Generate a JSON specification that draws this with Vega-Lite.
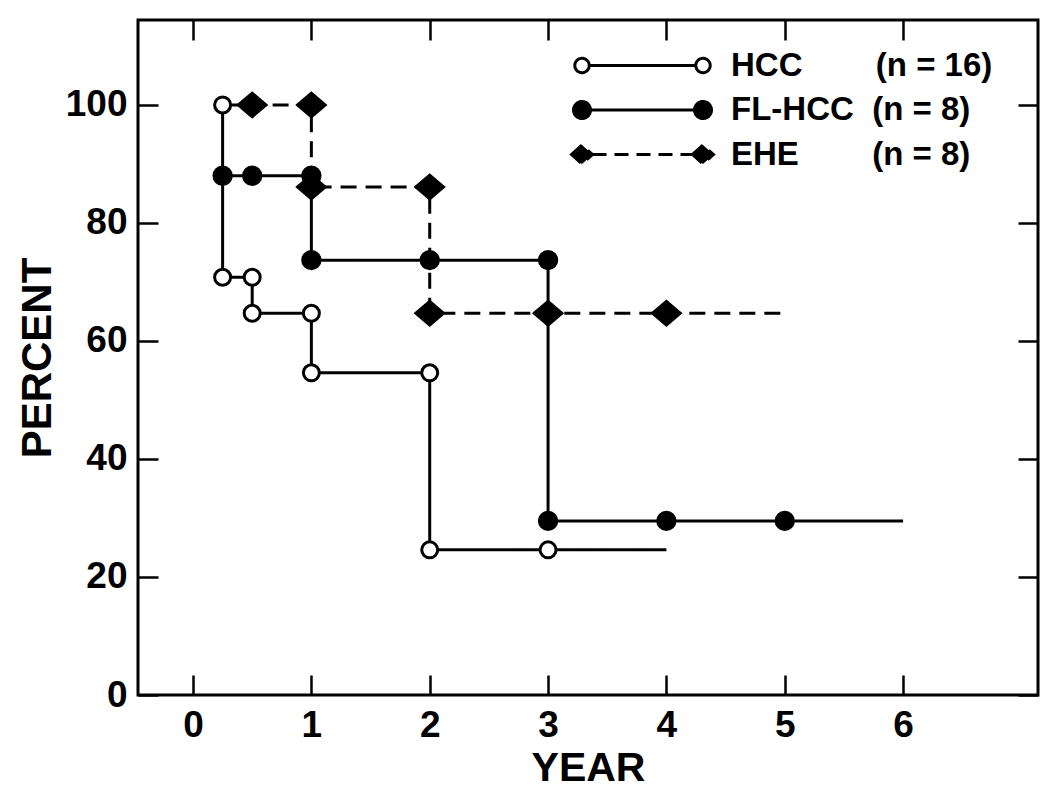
{
  "$schema": "https://vega.github.io/schema/vega-lite/v6.json",
  "width": 900,
  "height": 675,
  "autosize": {"type": "none"},
  "padding": {"left": 138, "top": 20, "right": 12, "bottom": 102},
  "background": "white",
  "config": {
    "font": "Liberation Sans",
    "view": {"stroke": "black", "strokeWidth": 3},
    "axis": {"grid": false, "domain": false, "tickColor": "black", "tickWidth": 2.5, "labelColor": "black", "titleColor": "black", "labelFontWeight": "bold", "titleFontWeight": "bold"}
  },
  "datasets": {
    "curves": [
      {"series": "HCC", "i": 1, "year": 0.25, "pct": 100},
      {"series": "HCC", "i": 2, "year": 0.25, "pct": 70.8},
      {"series": "HCC", "i": 3, "year": 0.5, "pct": 70.8},
      {"series": "HCC", "i": 4, "year": 0.5, "pct": 64.7},
      {"series": "HCC", "i": 5, "year": 1, "pct": 64.7},
      {"series": "HCC", "i": 6, "year": 1, "pct": 54.6},
      {"series": "HCC", "i": 7, "year": 2, "pct": 54.6},
      {"series": "HCC", "i": 8, "year": 2, "pct": 24.6},
      {"series": "HCC", "i": 9, "year": 4, "pct": 24.6},
      {"series": "FL-HCC", "i": 1, "year": 0.25, "pct": 88},
      {"series": "FL-HCC", "i": 2, "year": 1, "pct": 88},
      {"series": "FL-HCC", "i": 3, "year": 1, "pct": 73.7},
      {"series": "FL-HCC", "i": 4, "year": 3, "pct": 73.7},
      {"series": "FL-HCC", "i": 5, "year": 3, "pct": 29.5},
      {"series": "FL-HCC", "i": 6, "year": 6, "pct": 29.5},
      {"series": "EHE", "i": 1, "year": 0.25, "pct": 100},
      {"series": "EHE", "i": 2, "year": 1, "pct": 100},
      {"series": "EHE", "i": 3, "year": 1, "pct": 86.1},
      {"series": "EHE", "i": 4, "year": 2, "pct": 86.1},
      {"series": "EHE", "i": 5, "year": 2, "pct": 64.7},
      {"series": "EHE", "i": 6, "year": 5, "pct": 64.7}
    ],
    "markers": [
      {"series": "EHE", "year": 0.5, "pct": 100},
      {"series": "EHE", "year": 1, "pct": 100},
      {"series": "EHE", "year": 1, "pct": 86.1},
      {"series": "EHE", "year": 2, "pct": 86.1},
      {"series": "EHE", "year": 2, "pct": 64.7},
      {"series": "EHE", "year": 3, "pct": 64.7},
      {"series": "EHE", "year": 4, "pct": 64.7},
      {"series": "FL-HCC", "year": 0.25, "pct": 88},
      {"series": "FL-HCC", "year": 0.5, "pct": 88},
      {"series": "FL-HCC", "year": 1, "pct": 88},
      {"series": "FL-HCC", "year": 1, "pct": 73.7},
      {"series": "FL-HCC", "year": 2, "pct": 73.7},
      {"series": "FL-HCC", "year": 3, "pct": 73.7},
      {"series": "FL-HCC", "year": 3, "pct": 29.5},
      {"series": "FL-HCC", "year": 4, "pct": 29.5},
      {"series": "FL-HCC", "year": 5, "pct": 29.5},
      {"series": "HCC", "year": 0.25, "pct": 100},
      {"series": "HCC", "year": 0.25, "pct": 70.8},
      {"series": "HCC", "year": 0.5, "pct": 70.8},
      {"series": "HCC", "year": 0.5, "pct": 64.7},
      {"series": "HCC", "year": 1, "pct": 64.7},
      {"series": "HCC", "year": 1, "pct": 54.6},
      {"series": "HCC", "year": 2, "pct": 54.6},
      {"series": "HCC", "year": 2, "pct": 24.6},
      {"series": "HCC", "year": 3, "pct": 24.6}
    ],
    "legendrows": [
      {"series": "HCC"},
      {"series": "FL-HCC"},
      {"series": "EHE"}
    ]
  },
  "layer": [
    {
      "data": {"name": "curves"},
      "mark": {"type": "line", "color": "black", "strokeWidth": 3},
      "encoding": {
        "x": {
          "field": "year", "type": "quantitative",
          "scale": {"domain": [-0.465, 7.14], "nice": false, "zero": false},
          "axis": {"orient": "bottom", "values": [0, 1, 2, 3, 4, 5, 6], "tickSize": -20, "labelPadding": 32, "labelFontSize": 37, "title": "YEAR", "titleFontSize": 41, "titlePadding": 5}
        },
        "y": {
          "field": "pct", "type": "quantitative",
          "scale": {"domain": [0, 114.4], "nice": false, "zero": true},
          "axis": {"orient": "left", "values": [0, 20, 40, 60, 80, 100], "tickSize": -20, "labelPadding": 31, "labelFontSize": 37, "title": "PERCENT", "titleFontSize": 42, "titlePadding": 6}
        },
        "order": {"field": "i", "type": "quantitative"},
        "strokeDash": {
          "field": "series", "type": "nominal",
          "scale": {"domain": ["HCC", "FL-HCC", "EHE"], "range": [[1, 0], [1, 0], [16, 9]]},
          "legend": null
        }
      }
    },
    {
      "data": {"name": "markers"},
      "mark": {"type": "point", "filled": true, "stroke": "black", "strokeWidth": 3, "opacity": 1},
      "encoding": {
        "x": {
          "field": "year", "type": "quantitative",
          "axis": {"orient": "top", "values": [0, 1, 2, 3, 4, 5, 6], "tickSize": -20, "labels": false, "title": null}
        },
        "y": {
          "field": "pct", "type": "quantitative",
          "axis": {"orient": "right", "values": [0, 20, 40, 60, 80, 100], "tickSize": -20, "labels": false, "title": null}
        },
        "shape": {
          "field": "series", "type": "nominal",
          "scale": {"domain": ["HCC", "FL-HCC", "EHE"], "range": ["circle", "circle", "M-1,0L0,-0.85L1,0L0,0.85Z"]},
          "legend": null
        },
        "fill": {
          "field": "series", "type": "nominal",
          "scale": {"domain": ["HCC", "FL-HCC", "EHE"], "range": ["white", "black", "black"]},
          "legend": null
        },
        "size": {
          "field": "series", "type": "nominal",
          "scale": {"type": "ordinal", "domain": ["HCC", "FL-HCC", "EHE"], "range": [256, 300, 760]},
          "legend": null
        }
      }
    },
    {
      "data": {"name": "legendrows"},
      "mark": {"type": "point", "filled": true, "opacity": 0, "size": 400},
      "encoding": {
        "shape": {
          "field": "series", "type": "nominal",
          "scale": {"domain": ["HCC", "FL-HCC", "EHE"], "range": [
            "M-6.77,0C-6.77,-0.398 -6.448,-0.72 -6.05,-0.72C-5.652,-0.72 -5.33,-0.398 -5.33,0C-5.33,0.398 -5.652,0.72 -6.05,0.72C-6.448,0.72 -6.77,0.398 -6.77,0ZM-5.33,0L5.33,0M5.33,0C5.33,-0.398 5.652,-0.72 6.05,-0.72C6.448,-0.72 6.77,-0.398 6.77,0C6.77,0.398 6.448,0.72 6.05,0.72C5.652,0.72 5.33,0.398 5.33,0Z",
            "M-6.9,0C-6.9,-0.469 -6.519,-0.85 -6.05,-0.85C-5.581,-0.85 -5.2,-0.469 -5.2,0C-5.2,0.469 -5.581,0.85 -6.05,0.85C-6.519,0.85 -6.9,0.469 -6.9,0ZM-6.05,0L6.05,0M5.2,0C5.2,-0.469 5.581,-0.85 6.05,-0.85C6.519,-0.85 6.9,-0.469 6.9,0C6.9,0.469 6.519,0.85 6.05,0.85C5.581,0.85 5.2,0.469 5.2,0Z",
            "M-5,0L5,0M-7.1,0L-6.05,-0.95L-5,0L-6.05,0.95ZM5,0L6.05,-0.95L7.1,0L6.05,0.95Z"
          ]},
          "legend": {
            "orient": "none", "legendX": 488, "legendY": 29, "title": null, "padding": 0,
            "symbolOpacity": 1, "symbolStrokeColor": "black", "symbolStrokeWidth": 3, "symbolSize": 400,
            "labelOffset": 72, "labelFont": "Liberation Sans", "labelFontSize": 33, "labelFontWeight": "bold", "labelColor": "black", "labelLimit": 0,
            "rowPadding": 10.5,
            "labelExpr": "datum.value === 'HCC' ? 'HCC\u00a0\u00a0\u00a0\u00a0\u00a0\u00a0\u00a0\u00a0(n = 16)' : datum.value === 'FL-HCC' ? 'FL-HCC\u00a0\u00a0(n = 8)' : 'EHE\u00a0\u00a0\u00a0\u00a0\u00a0\u00a0\u00a0\u00a0(n = 8)'"
          }
        },
        "fill": {
          "field": "series", "type": "nominal",
          "scale": {"domain": ["HCC", "FL-HCC", "EHE"], "range": ["white", "black", "black"]}
        },
        "stroke": {
          "field": "series", "type": "nominal",
          "scale": {"domain": ["HCC", "FL-HCC", "EHE"], "range": ["black", "black", "black"]}
        },
        "strokeWidth": {
          "field": "series", "type": "nominal",
          "scale": {"type": "ordinal", "domain": ["HCC", "FL-HCC", "EHE"], "range": [3, 3, 3]}
        },
        "strokeDash": {
          "field": "series", "type": "nominal",
          "scale": {"domain": ["HCC", "FL-HCC", "EHE"], "range": [[1, 0], [1, 0], [14, 8]]}
        }
      }
    }
  ],
  "resolve": {
    "scale": {"shape": "independent", "fill": "independent", "stroke": "independent", "strokeWidth": "independent", "strokeDash": "independent", "size": "independent"},
    "axis": {"x": "independent", "y": "independent"}
  }
}
